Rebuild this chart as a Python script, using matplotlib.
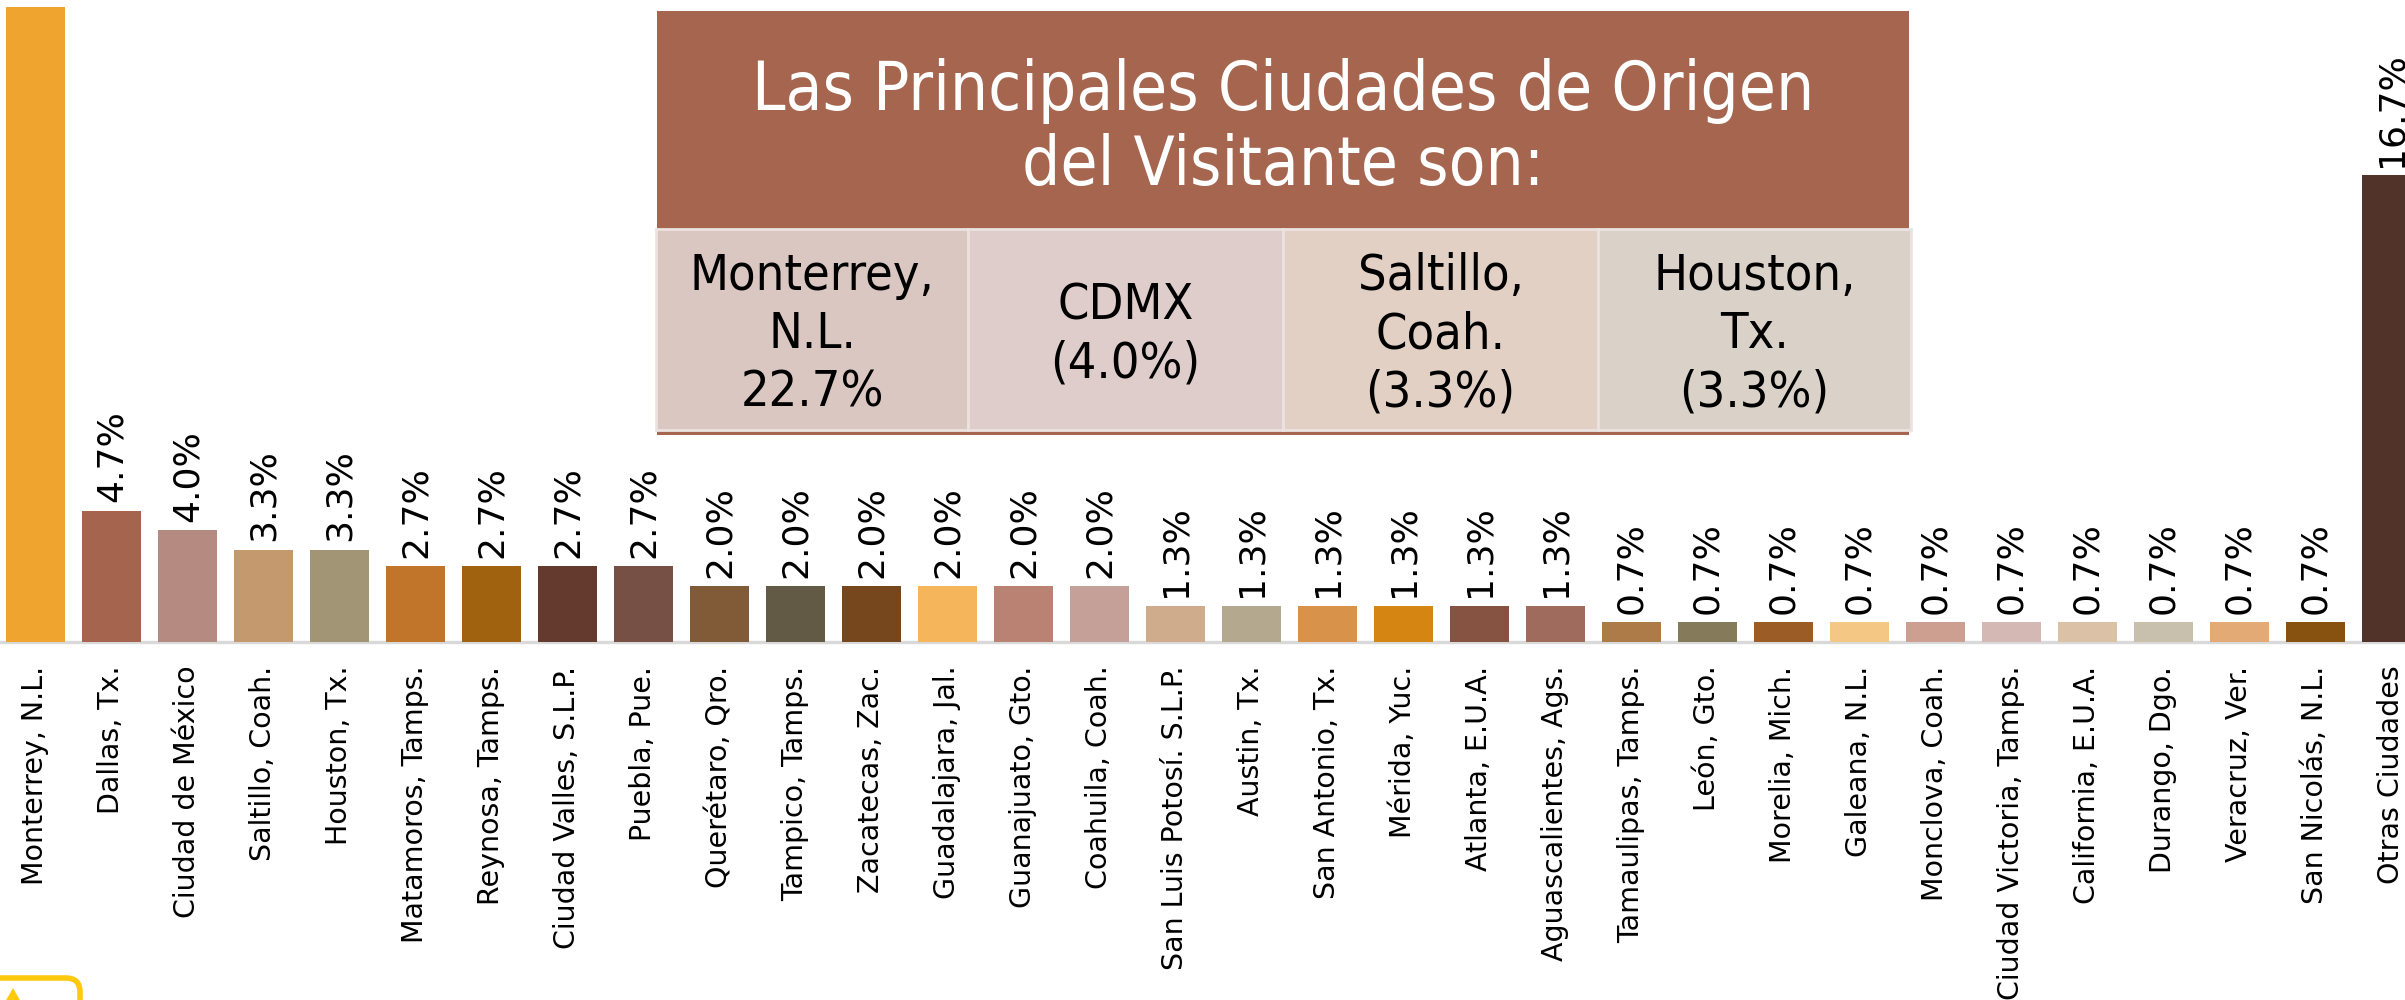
import numpy as np
import matplotlib
matplotlib.use("Agg")
import matplotlib.pyplot as plt
from matplotlib.patches import Rectangle, FancyBboxPatch, Polygon
from matplotlib.transforms import Affine2D

# ---------------- data ----------------
categories = [
    "Monterrey, N.L.", "Dallas, Tx.", "Ciudad de México", "Saltillo, Coah.",
    "Houston, Tx.", "Matamoros, Tamps.", "Reynosa, Tamps.", "Ciudad Valles, S.L.P.",
    "Puebla, Pue.", "Querétaro, Qro.", "Tampico, Tamps.", "Zacatecas, Zac.",
    "Guadalajara, Jal.", "Guanajuato, Gto.", "Coahuila, Coah.", "San Luis Potosí. S.L.P.",
    "Austin, Tx.", "San Antonio, Tx.", "Mérida, Yuc.", "Atlanta, E.U.A.",
    "Aguascalientes, Ags.", "Tamaulipas, Tamps.", "León, Gto.", "Morelia, Mich.",
    "Galeana, N.L.", "Monclova, Coah.", "Ciudad Victoria, Tamps.", "California, E.U.A.",
    "Durango, Dgo.", "Veracruz, Ver.", "San Nicolás, N.L.", "Otras Ciudades",
]
values = [22.7, 4.7, 4.0, 3.3, 3.3, 2.7, 2.7, 2.7, 2.7, 2.0, 2.0, 2.0, 2.0, 2.0, 2.0,
          1.3, 1.3, 1.3, 1.3, 1.3, 1.3, 0.7, 0.7, 0.7, 0.7, 0.7, 0.7, 0.7, 0.7, 0.7,
          0.7, 16.7]
value_labels = [f"{v:.1f}%" for v in values]
bar_colors = [
    "#f0a430", "#a5644e", "#b58a80", "#c4996d", "#a29575", "#c0752a", "#a0620f",
    "#643a2f", "#775045", "#815b38", "#625a45", "#76461c", "#f4b55b", "#b98272",
    "#c4a098", "#cfad8c", "#b4a98f", "#d8924a", "#d58512", "#865241", "#9e6b5d",
    "#ad7b48", "#857a5a", "#9b5d25", "#f5c784", "#cc9f90", "#d4b8b3", "#dbc2a6",
    "#c8bfac", "#e3aa75", "#87520f", "#523329",
]

title_lines = ["Las Principales Ciudades de Origen", "del Visitante son:"]
top_cities = [
    ["Monterrey,", "N.L.", "22.7%"],
    ["CDMX", "(4.0%)"],
    ["Saltillo,", "Coah.", "(3.3%)"],
    ["Houston,", "Tx.", "(3.3%)"],
]
cell_colors = ["#dbc7c1", "#dfcdcb", "#e3d0c5", "#dad2c8"]
header_color = "#a5654e"

# ---------------- figure ----------------
W, H, DPI = 2405, 1000, 100
fig = plt.figure(figsize=(W / DPI, H / DPI), dpi=DPI)
fig.patch.set_facecolor("white")
px = Affine2D().scale(1.0 / DPI) + fig.dpi_scale_trans  # pixel coords, origin bottom-left


def Y(y_top):
    return H - y_top


base_px = 642
ax = fig.add_axes([0, 1 - base_px / H, 1, base_px / H])
x = np.arange(len(categories))
ax.bar(x, values, width=0.776, color=bar_colors, zorder=2)
ax.set_xlim(-0.467, 31.18)
ymax = values[0] * base_px / (base_px - 7)
ax.set_ylim(0, ymax)
ax.axhline(0, color="#d9d9d9", lw=2.4, clip_on=False, zorder=1)
for s in ax.spines.values():
    s.set_visible(False)
ax.set_yticks([])
ax.set_xticks(x)
ax.set_xticklabels(categories, rotation=90, fontsize=20.5, family="DejaVu Sans")
ax.tick_params(axis="x", length=0, pad=17)
ax.set_facecolor("none")

# value labels (the one of the tallest bar falls outside the canvas, as in the reference)
for xi, v, lab in zip(x, values, value_labels):
    if v > 0.9 * ymax:
        continue
    ax.annotate(lab, (xi, v), xytext=(0, 6), textcoords="offset points",
                rotation=90, ha="center", va="bottom", fontsize=26,
                family="DejaVu Sans", color="black")

# ---------------- info box ----------------
bx0, bx1 = 657, 1909
fig.add_artist(Rectangle((bx0, Y(435)), bx1 - bx0, 435 - 11, transform=px,
                         facecolor=header_color, edgecolor="none"))
cell_edges = [656, 968, 1283, 1598, 1911]
ct, cb = 229, 430
for i in range(4):
    fig.add_artist(Rectangle((cell_edges[i], Y(cb)), cell_edges[i + 1] - cell_edges[i], cb - ct,
                             transform=px, facecolor=cell_colors[i],
                             edgecolor="#ebe3e0", lw=2.0))

renderer = fig.canvas.get_renderer()


def fit_size(text, target_px):
    t = fig.text(0, 0, text, fontsize=20, family="DejaVu Sans", fontstretch="condensed")
    w = t.get_window_extent(renderer).width
    t.remove()
    return 20.0 * target_px / w


title_fs = fit_size(title_lines[0], 1061)
cx = (bx0 + bx1) / 2
for line, yb in zip(title_lines, [110, 185]):
    fig.text(cx, Y(yb), line, transform=px, ha="center", va="baseline",
             fontsize=title_fs, color="white", family="DejaVu Sans",
             fontstretch="condensed")

cell_fs = fit_size(top_cities[0][0], 245)
pitch = 58
cap = 38
ccy = (ct + cb) / 2
for i, lines in enumerate(top_cities):
    xc = (cell_edges[i] + cell_edges[i + 1]) / 2
    n = len(lines)
    for k, line in enumerate(lines):
        cap_center = ccy + (k - (n - 1) / 2) * pitch
        yb = cap_center + cap / 2
        fig.text(xc, Y(yb), line, transform=px, ha="center", va="baseline",
                 fontsize=cell_fs, color="black", family="DejaVu Sans",
                 fontstretch="condensed")

# ---------------- small decoration bottom-left ----------------
fig.add_artist(FancyBboxPatch((-40, Y(1040)), 120, 62, transform=px,
                              boxstyle="round,pad=0,rounding_size=14",
                              facecolor="none", edgecolor="#ffc90e", lw=4.0))
fig.add_artist(Polygon([(5, Y(1002)), (13, Y(988)), (21, Y(1002))], closed=True,
                       transform=px, facecolor="#ffc90e", edgecolor="none"))

fig.savefig("out.png", dpi=DPI, facecolor="white")
